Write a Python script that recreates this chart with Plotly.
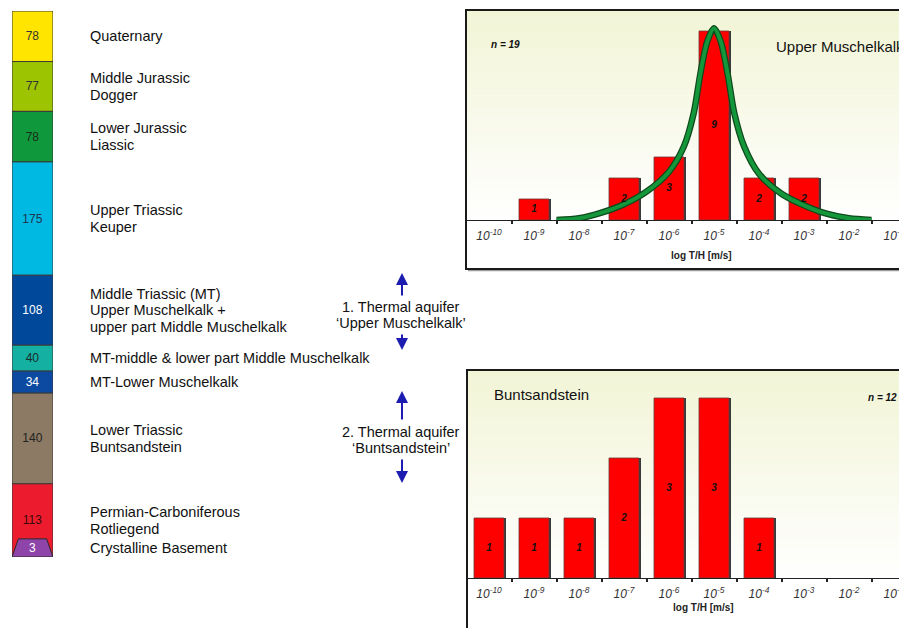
import plotly.graph_objects as go
import numpy as np

# The page body adds an 8px margin, so the figure is drawn 8px in from the
# window's top-left corner; positions below are given in window pixels.
OFF = 8
W, H = 907 - OFF, 628 - OFF
FONT = "Liberation Sans, Arial, Helvetica, sans-serif"

# ---------------- stratigraphic column (thickness in m) ----------------
layer_names = [
    "Quaternary",
    "Middle Jurassic\nDogger",
    "Lower Jurassic\nLiassic",
    "Upper Triassic\nKeuper",
    "Middle Triassic (MT)\nUpper Muschelkalk +\nupper part Middle Muschelkalk",
    "MT-middle & lower part Middle Muschelkalk",
    "MT-Lower Muschelkalk",
    "Lower Triassic\nBuntsandstein",
    "Permian-Carboniferous\nRotliegend",
]
layer_thickness = [78, 77, 78, 175, 108, 40, 34, 140, 113]
layer_colors = ["#ffe500", "#9cc400", "#10993c", "#00b9e3", "#00489a",
                "#14b1a3", "#0b4aa0", "#8d7a64", "#ec1c2e"]
layer_text_colors = ["#333333", "#333333", "#1b2b1b", "#1d3550", "#ffffff",
                     "#1b2b2b", "#ffffff", "#222222", "#3a0a0a"]
basement_name = "Crystalline Basement"
basement_thickness = 3
basement_color = "#8e44a8"

# ---------------- aquifers ----------------
aquifer_labels = ["1. Thermal aquifer\n\u2018Upper Muschelkalk\u2019",
                  "2. Thermal aquifer\n\u2018Buntsandstein\u2019"]

# ---------------- histograms of log T/H ----------------
exponents = [-10, -9, -8, -7, -6, -5, -4, -3, -2, -1]
tick_labels = ["10<sup>%d</sup>" % e for e in exponents]
um_title = "Upper Muschelkalk"
um_n = 19
um_counts = [0, 1, 0, 2, 3, 9, 2, 2, 0, 0]
bs_title = "Buntsandstein"
bs_n = 12
bs_counts = [1, 1, 1, 2, 3, 3, 1, 0, 0, 0]
axis_title = "log T/H [m/s]"

# fitted distribution curve (Upper Muschelkalk)
fit_x = [-8.5, -8.0, -7.5, -7.0, -6.5, -6.0, -5.67, -5.45, -5.3, -5.15, -5.0,
         -4.85, -4.7, -4.55, -4.33, -4.0, -3.5, -3.0, -2.5, -2.0, -1.5]
fit_y = [0.0, 0.08, 0.35, 0.75, 1.35, 2.3, 3.5, 5.1, 7.0, 8.5, 9.13,
         8.5, 7.0, 5.1, 3.5, 2.2, 1.25, 0.7, 0.3, 0.08, 0.0]


def px(x):
    return (x - OFF) / W


def py(y):
    return 1 - (y - OFF) / H


fig = go.Figure()

# ---- column ----
bases = list(np.cumsum([0] + layer_thickness[:-1]))
total = sum(layer_thickness)
fig.add_trace(go.Bar(
    x=[0] * len(layer_thickness), y=layer_thickness, base=bases,
    width=1.0, marker=dict(color=layer_colors, line=dict(color="#3a3a3a", width=1)),
    text=[str(t) for t in layer_thickness], textposition="inside",
    insidetextanchor="middle", constraintext="none",
    textfont=dict(family=FONT, size=12, color=layer_text_colors),
    xaxis="x", yaxis="y", showlegend=False, hoverinfo="skip",
))
trap_h = 28
trap_inset = 0.155
fig.add_trace(go.Scatter(
    x=[-0.5, -0.5 + trap_inset, 0.5 - trap_inset, 0.5, -0.5],
    y=[total, total - trap_h, total - trap_h, total, total],
    fill="toself", fillcolor=basement_color, mode="lines",
    line=dict(color="#2a2a2a", width=1), xaxis="x", yaxis="y",
    showlegend=False, hoverinfo="skip",
))

annotations = []
annotations.append(dict(x=0, y=total - trap_h / 2, xref="x", yref="y",
                        xanchor="center", text=str(basement_thickness),
                        showarrow=False,
                        font=dict(family=FONT, size=12, color="white")))

LINE = 16.5
for name, b, t in zip(layer_names, bases, layer_thickness):
    lines = name.split("\n")
    n = len(lines)
    for j, ln in enumerate(lines):
        annotations.append(dict(
            x=px(88), xref="paper", xanchor="left", y=b + t / 2, yref="y",
            yanchor="middle", yshift=((n - 1) / 2 - j) * LINE, text=ln,
            showarrow=False, font=dict(family=FONT, size=14.5, color="#111111")))
annotations.append(dict(
    x=px(88), xref="paper", xanchor="left", y=total - trap_h / 2, yref="y",
    yanchor="middle", text=basement_name, showarrow=False,
    font=dict(family=FONT, size=14.5, color="#111111")))

# ---- aquifer texts and arrows ----
ARROW = "#1c1cb0"
for lab, cy, up, down in zip(aquifer_labels, [315, 440],
                             [(273, 297), (391, 421)], [(350, 333), (483, 458)]):
    lines = lab.split("\n")
    n = len(lines)
    for j, ln in enumerate(lines):
        annotations.append(dict(
            x=px(401), y=py(cy), xref="paper", yref="paper", xanchor="center",
            yanchor="middle", yshift=((n - 1) / 2 - j) * 16, text=ln,
            showarrow=False, font=dict(family=FONT, size=14.5, color="#111111")))
    for head, tail in (up, down):
        annotations.append(dict(
            x=px(402), y=py(head), xref="paper", yref="paper", text="",
            showarrow=True, ax=0, ay=tail - head, arrowhead=2, arrowsize=1.2,
            arrowwidth=2, arrowcolor=ARROW, standoff=0, startstandoff=0))

# ---- histograms ----
BW = 30 / 45
SH = 2 / 45


def add_hist(counts, xa, ya):
    xs = [e for e, c in zip(exponents, counts) if c > 0]
    ys = [c for c in counts if c > 0]
    fig.add_trace(go.Bar(
        x=xs, y=ys, width=BW, offset=-BW / 2 + SH,
        marker=dict(color="#3a3a3a", line=dict(width=0)),
        xaxis=xa, yaxis=ya, showlegend=False, hoverinfo="skip"))
    fig.add_trace(go.Bar(
        x=xs, y=ys, width=BW, offset=-BW / 2,
        marker=dict(color="#ff0000", line=dict(color="#6a3a3a", width=0.8)),
        xaxis=xa, yaxis=ya, showlegend=False, hoverinfo="skip"))
    return xs, ys


def add_counts_text(xs, ys, xa, ya):
    fig.add_trace(go.Scatter(
        x=xs, y=[v / 2 for v in ys], mode="text", text=[str(v) for v in ys],
        textposition="middle center",
        textfont=dict(family=FONT, size=10, color="#111111", style="italic",
                      weight="bold"),
        xaxis=xa, yaxis=ya, showlegend=False, hoverinfo="skip"))


um_xs, um_ys = add_hist(um_counts, "x2", "y2")
fig.add_trace(go.Scatter(x=fit_x, y=fit_y, mode="lines",
                         line=dict(color="#0e4a1c", width=6.5, shape="spline", smoothing=0.8),
                         xaxis="x2", yaxis="y2", showlegend=False, hoverinfo="skip"))
fig.add_trace(go.Scatter(x=fit_x, y=fit_y, mode="lines",
                         line=dict(color="#14973a", width=4, shape="spline", smoothing=0.8),
                         xaxis="x2", yaxis="y2", showlegend=False, hoverinfo="skip"))
add_counts_text(um_xs, um_ys, "x2", "y2")
bs_xs, bs_ys = add_hist(bs_counts, "x3", "y3")
add_counts_text(bs_xs, bs_ys, "x3", "y3")

# titles / n labels
annotations += [
    dict(x=px(505), y=py(37), xref="paper", yref="paper", xanchor="center",
         text="n = %d" % um_n, showarrow=False,
         font=dict(family=FONT, size=10, color="#111", style="italic", weight="bold")),
    dict(x=px(774), y=py(36), xref="paper", yref="paper", xanchor="left",
         text=um_title, showarrow=False, font=dict(family=FONT, size=15, color="#111")),
    dict(x=px(701), y=py(255), xref="paper", yref="paper", xanchor="center",
         text=axis_title, showarrow=False,
         font=dict(family=FONT, size=10, color="#222", weight="bold")),
    dict(x=px(492), y=py(394), xref="paper", yref="paper", xanchor="left",
         text=bs_title, showarrow=False, font=dict(family=FONT, size=15, color="#111")),
    dict(x=px(882), y=py(397), xref="paper", yref="paper", xanchor="center",
         text="n = %d" % bs_n, showarrow=False,
         font=dict(family=FONT, size=10, color="#111", style="italic", weight="bold")),
    dict(x=px(703), y=py(615), xref="paper", yref="paper", xanchor="center",
         text=axis_title, showarrow=False,
         font=dict(family=FONT, size=10, color="#222", weight="bold")),
]

# ---- background gradients and boxes ----
shapes = []
top_col = np.array([242, 245, 214])
white = np.array([255, 255, 255])


def gradient(y0, y1, n=40):
    for i in range(n):
        f = i / (n - 1)
        c = top_col + (white - top_col) * f
        shapes.append(dict(type="rect", xref="paper", yref="paper",
                           x0=px(467), x1=1.02, y0=py(y0 + (y1 - y0) * i / n),
                           y1=py(y0 + (y1 - y0) * (i + 1) / n) - 0.0005,
                           fillcolor="rgb(%d,%d,%d)" % tuple(c.astype(int)),
                           line=dict(width=0), layer="below"))


gradient(11, 222)
gradient(371, 580)
shapes.append(dict(type="line", xref="paper", yref="paper", x0=px(468), x1=1.02,
                   y0=py(270.5), y1=py(270.5), line=dict(color="#9a9a9a", width=1.5),
                   layer="above"))
shapes.append(dict(type="rect", xref="paper", yref="paper", x0=px(466), x1=1.02,
                   y0=py(269), y1=py(10), line=dict(color="#1a1a1a", width=2),
                   layer="above"))
shapes.append(dict(type="rect", xref="paper", yref="paper", x0=px(467), x1=1.02,
                   y0=-0.05, y1=py(370), line=dict(color="#1a1a1a", width=2),
                   layer="above"))

xrange_ = [-10.5, -10.5 + (907 - 466.5) / 45]
xcommon = dict(
    domain=[px(466.5), 1], range=xrange_, tickmode="array", tickvals=exponents,
    ticktext=tick_labels, ticks="", showgrid=False, zeroline=False,
    showline=True, linecolor="#222", linewidth=1,
    tickfont=dict(family=FONT, size=12, color="#333", style="italic"),
    ticklabelstandoff=5,
    minor=dict(tickmode="array", tickvals=[e + 0.5 for e in exponents[:-1]],
               ticks="outside", ticklen=3, tickcolor="#222", tickwidth=1.5,
               showgrid=False),
)

fig.update_layout(
    width=W, height=H, margin=dict(l=0, r=0, t=0, b=0),
    paper_bgcolor="white", plot_bgcolor="rgba(0,0,0,0)",
    barmode="overlay", showlegend=False,
    xaxis=dict(domain=[px(12), px(53)], range=[-0.5, 0.5], visible=False,
               anchor="y", fixedrange=True),
    yaxis=dict(domain=[py(557), py(11)], range=[total, 0], visible=False,
               anchor="x"),
    xaxis2=dict(anchor="y2", **xcommon),
    yaxis2=dict(domain=[py(220), py(11)], range=[0, 209 / 21], visible=False,
                anchor="x2"),
    xaxis3=dict(anchor="y3", **xcommon),
    yaxis3=dict(domain=[py(578), py(371)], range=[0, 207 / 60], visible=False,
                anchor="x3"),
    annotations=annotations, shapes=shapes,
    font=dict(family=FONT),
)

fig.write_html("out.html")
